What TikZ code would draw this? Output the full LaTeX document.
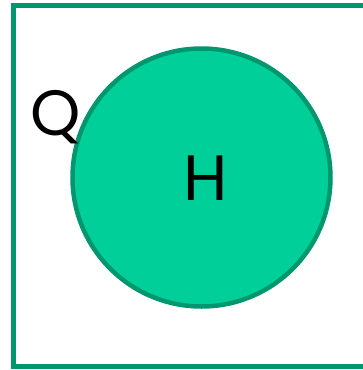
\documentclass[tikz,border=0pt]{standalone}
\usepackage{fontspec}
\setmainfont{Poppins}
\usepackage{xcolor}
\definecolor{setfill}{RGB}{0,207,154}
\definecolor{setline}{RGB}{0,150,110}
\usetikzlibrary{positioning}

\begin{document}
\begin{tikzpicture}[x=1pt, y=-1pt, every node/.style={font=\fontsize{64}{70}\selectfont}]
\def\lw{5pt}
\useasboundingbox (0,0) rectangle (363,370);
% universe box, right side runs off the page
\node[draw=setline, line width=\lw, rectangle, inner sep=0pt, minimum width=370pt, minimum height=361pt] (U) at (198.5,185.5) {};

\node[fill=setfill, draw=setline, line width=4.5pt, circle, inner sep=0pt, minimum size=258pt] (H) at (201.5,177.5) {};

\node[inner sep=0pt] (Hlabel) at (206,178) {H};
\node[inner sep=0pt] (Qlabel) at (56,117) {Q};
\end{tikzpicture}
\end{document}
